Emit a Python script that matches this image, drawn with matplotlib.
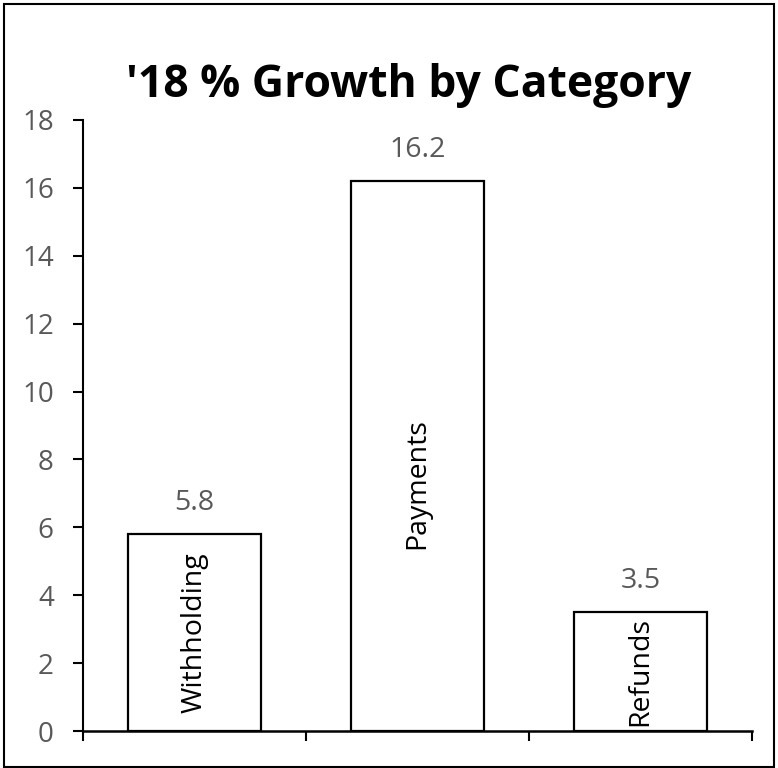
import matplotlib.pyplot as plt
from matplotlib.patches import Rectangle

# Dados do gráfico
categorias = ["Withholding", "Payments", "Refunds"]
crescimento = [5.8, 16.2, 3.5]
y_ticks = [0, 2, 4, 6, 8, 10, 12, 14, 16, 18]

# posição vertical (em unidades do eixo) dos rótulos dentro das barras
pos_rotulos = [2.9, 7.3, 1.75]

plt.rcParams['font.family'] = ['Open Sans', 'DejaVu Sans']
cinza = '#595959'

fig = plt.figure(figsize=(7.78, 7.68), dpi=100)
ax = fig.add_axes([83 / 778, 37 / 768, 669 / 778, 611 / 768])

x = list(range(len(categorias)))
ax.bar(x, crescimento, width=0.6, color='white', edgecolor='black', linewidth=1.6, zorder=3)

for xi, v, yl, nome in zip(x, crescimento, pos_rotulos, categorias):
    ax.text(xi, v + 0.5, f"{v}", ha='center', va='bottom', fontsize=20.5, color=cinza)
    ax.text(xi, yl, nome, ha='center', va='center', rotation=90, fontsize=20.5, color='black')

ax.set_xlim(-0.5, len(categorias) - 0.5)
ax.set_ylim(0, 18)
ax.set_yticks(y_ticks)
ax.tick_params(axis='y', labelsize=20, labelcolor=cinza, length=7, width=1.5, pad=14)
ax.set_xticks([i + 0.5 for i in range(-1, len(categorias))])
ax.set_xticklabels([])
ax.tick_params(axis='x', length=7, width=1.5, direction='out')

for lado in ['top', 'right']:
    ax.spines[lado].set_visible(False)
ax.spines['left'].set_linewidth(1.5)
ax.spines['bottom'].set_linewidth(1.8)

fig.text(0.525, 0.874, "'18 % Growth by Category", ha='center', va='baseline',
         fontsize=32, fontweight='bold')

# moldura da figura
fig.patches.append(Rectangle((4 / 778, 1 / 768), 770 / 778, 763 / 768, transform=fig.transFigure,
                             fill=False, edgecolor='black', linewidth=1.5))

fig.savefig("out.png", dpi=100)
